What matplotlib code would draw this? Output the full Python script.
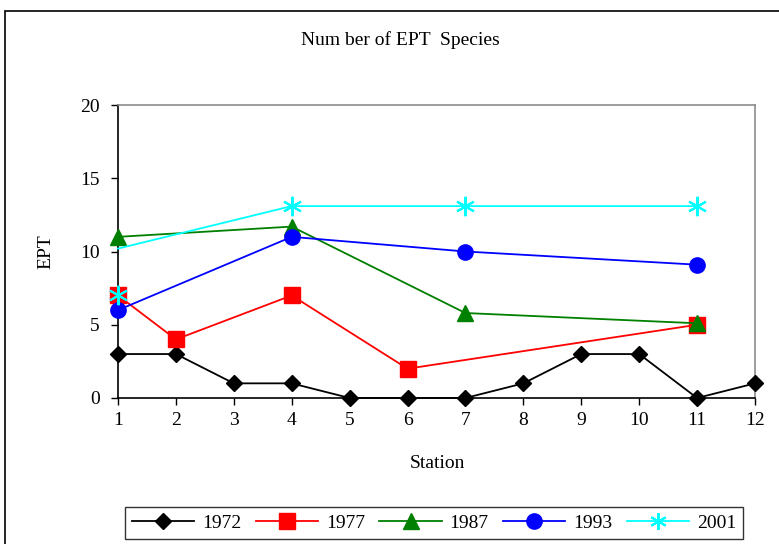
import matplotlib
matplotlib.use("Agg")
import matplotlib.pyplot as plt
from matplotlib.patches import Rectangle

plt.rcParams['font.family'] = ['Liberation Serif', 'DejaVu Serif']

stations = list(range(1, 13))

st_1972 = [1, 2, 3, 4, 5, 6, 7, 8, 9, 10, 11, 12]
ept_1972 = [3, 3, 1, 1, 0, 0, 0, 1, 3, 3, 0, 1]

st_1977 = [1, 2, 4, 6, 11]
ept_1977 = [7, 4, 7, 2, 5]

st_1987 = [1, 4, 7, 11]
ept_1987 = [11, 11.7, 5.8, 5.1]

st_1993 = [1, 4, 7, 11]
ept_1993 = [6, 11, 10, 9.1]

st_2001 = [1, 4, 7, 11]
ept_2001 = [10.2, 13.1, 13.1, 13.1]
st_2001_extra = [1]
ept_2001_extra = [7]

FS = 14

fig = plt.figure(figsize=(7.79, 5.44), dpi=100)
ax = fig.add_axes([118 / 779, 1 - 398 / 544, (755 - 118) / 779, (398 - 105) / 544])

lw = 1.3
asterisk = (6, 2, 0)
ax.plot(st_1972, ept_1972, color='black', lw=lw, marker='D', ms=8,
        clip_on=False, label='1972', zorder=3)
ax.plot(st_1977, ept_1977, color='red', lw=lw, marker='s', ms=11,
        clip_on=False, label='1977', zorder=3)
ax.plot(st_1987, ept_1987, color='green', lw=lw, marker='^', ms=12,
        clip_on=False, label='1987', zorder=4)
ax.plot(st_1993, ept_1993, color='blue', lw=lw, marker='o', ms=11,
        clip_on=False, label='1993', zorder=4)
ax.plot(st_2001, ept_2001, color='cyan', lw=lw, clip_on=False, zorder=5)
ax.plot(st_2001[1:], ept_2001[1:], color='cyan', lw=0, marker=asterisk, ms=14,
        mew=1.5, clip_on=False, zorder=5)
ax.plot(st_2001_extra, ept_2001_extra, color='cyan', lw=0, marker=asterisk, ms=14,
        mew=1.5, clip_on=False, zorder=5)
# legend entry for 2001
ax.plot([], [], color='cyan', lw=lw, marker=asterisk, ms=12, mew=1.5, label='2001')

ax.set_xlim(1, 12)
ax.set_ylim(0, 20)
ax.set_xticks(stations)
ax.set_yticks([0, 5, 10, 15, 20])
ax.tick_params(axis='both', labelsize=FS, direction='out', length=5, width=1, colors='black')
ax.tick_params(axis='x', pad=5)
ax.tick_params(axis='y', pad=8)

for side in ['top', 'right']:
    ax.spines[side].set_color('#8c8c8c')
    ax.spines[side].set_linewidth(1.2)
for side in ['left', 'bottom']:
    ax.spines[side].set_color('black')
    ax.spines[side].set_linewidth(1.2)

fig.text(400 / 779, 1 - 40 / 544, 'Num ber of EPT  Species', ha='center', va='center', fontsize=FS)
fig.text(437 / 779, 1 - 463 / 544, 'Station', ha='center', va='center', fontsize=FS)
fig.text(46 / 779, 1 - 252 / 544, 'EPT', ha='center', va='center', fontsize=FS, rotation=90)

leg = fig.legend(loc='center', bbox_to_anchor=(434 / 779, 1 - 523 / 544), ncol=5,
                 fontsize=FS, frameon=True, fancybox=False, edgecolor='black',
                 handlelength=3.2, columnspacing=0.75, handletextpad=0.4,
                 borderpad=0.35)
leg.get_frame().set_linewidth(1.0)

fig.add_artist(Rectangle((5 / 779, -0.05), 1.1, 1 - 11 / 544 + 0.05,
                         transform=fig.transFigure, fill=False, edgecolor='black', lw=1.2))

fig.savefig('out.png', dpi=100)
